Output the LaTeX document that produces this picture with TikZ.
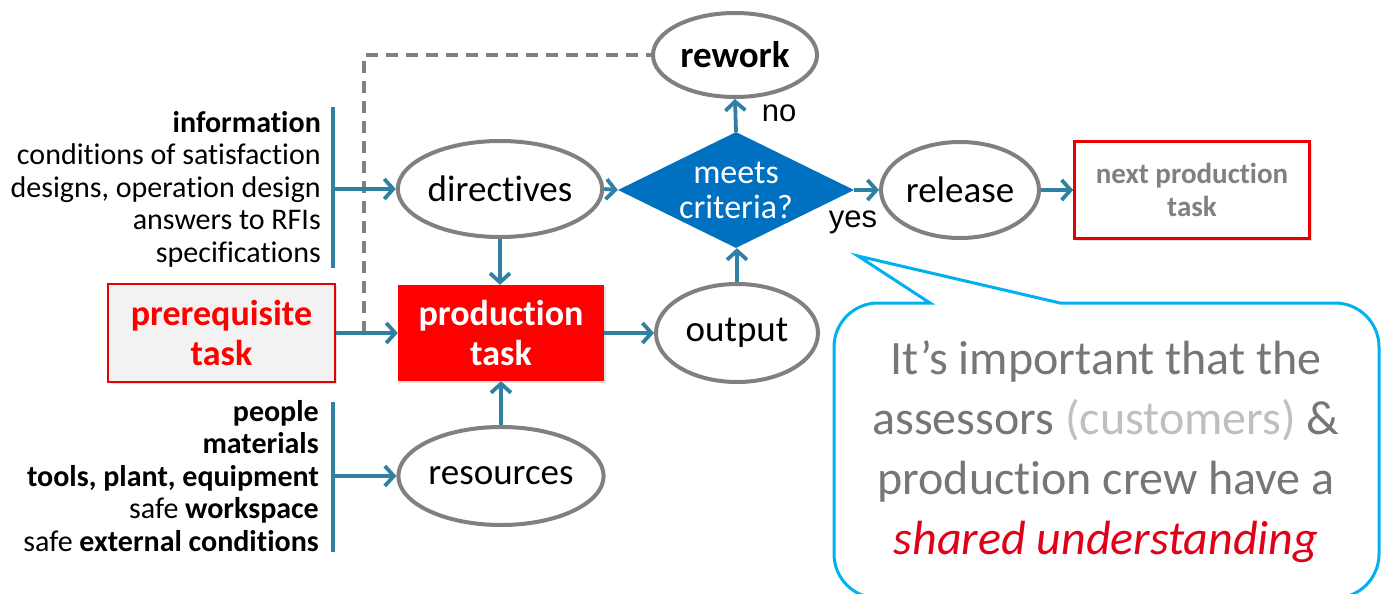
\documentclass[tikz,border=0pt]{standalone}
\usepackage{fontspec}
\setmainfont{Carlito}[Ligatures=NoCommon]
\newfontfamily\arialf{Liberation Sans}
\usetikzlibrary{arrows.meta,shapes.geometric,shadows}
\definecolor{arrblue}{RGB}{47,128,163}
\definecolor{ellgray}{RGB}{128,128,128}
\definecolor{dmblue}{RGB}{0,112,192}
\definecolor{taskred}{RGB}{255,0,0}
\definecolor{boxred}{RGB}{230,0,0}
\definecolor{prefill}{RGB}{242,242,242}
\definecolor{nextgray}{RGB}{128,128,128}
\definecolor{cyanc}{RGB}{0,176,240}
\definecolor{txtgray}{RGB}{118,118,118}
\definecolor{ltgray}{RGB}{191,191,191}
\definecolor{shred}{RGB}{224,0,24}
\definecolor{dashgray}{RGB}{128,128,128}
\tikzset{
  ell/.style={ellipse, draw=ellgray, line width=4pt, fill=white, inner sep=0pt,
    font=\fontsize{37}{40}\selectfont},
  flow/.style={draw=arrblue, line width=3.8pt, -{Straight Barb[length=9pt,width=20pt]}},
  brack/.style={draw=arrblue, line width=3.8pt},
  dashline/.style={draw=dashgray, line width=3.2pt, dash pattern=on 12pt off 8pt},
  listtxt/.style={align=right, anchor=east, inner sep=0pt, font=\fontsize{30}{32.5}\selectfont},
  lbl/.style={inner sep=0pt, font=\arialf\fontsize{31}{34}\selectfont},
  shd/.style={drop shadow={opacity=0.25, shadow xshift=2pt, shadow yshift=-2pt}}
}
\begin{document}
\begin{tikzpicture}[x=1pt,y=-1pt]
\useasboundingbox (0,0) rectangle (1381,594);

% nodes
\node[ell, font=\bfseries\fontsize{37}{40}\selectfont, minimum width=164, minimum height=84] (rework) at (735,55) {rework};
\node[ell, minimum width=162, minimum height=96] (directives) at (500,189) {directives};
\node[diamond, aspect=2, fill=dmblue, minimum width=236, minimum height=116, inner sep=0pt,
  text=white, align=center, font=\fontsize{34}{35}\selectfont] (crit) at (736,190) {meets\\criteria?};
\node[ell, minimum width=158, minimum height=96] (release) at (960,190) {release};
\node[draw=boxred, line width=2.6pt, fill=white, minimum width=235, minimum height=97, inner sep=0pt,
  text=nextgray, align=center, font=\bfseries\fontsize{29}{33}\selectfont, shd] (next) at (1192,190) {next production\\task};
\node[fill=taskred, minimum width=206, minimum height=96, inner sep=0pt, text=white, align=center,
  font=\bfseries\fontsize{36}{40}\selectfont, shd] (prod) at (501,333) {production\\task};
\node[draw=boxred, line width=2.6pt, fill=prefill, minimum width=227, minimum height=98, inner sep=0pt,
  text=taskred, align=center, font=\bfseries\fontsize{36}{40}\selectfont, shd] (prereq) at (221.5,333) {prerequisite\\task};
\node[ell, minimum width=162, minimum height=98] (output) at (737,333) {output};
\node[ell, minimum width=162, minimum height=98] (resources) at (501,476) {resources};

% labels
\node[lbl] (no) at (779,113) {no};
\node[lbl] (yes) at (853,222) {yes};

% lists
\node[listtxt] (info) at (321,189) {\textbf{information}\\conditions of satisfaction\\designs, operation design\\answers to RFIs\\specifications};
\node[listtxt] (res) at (319,476) {\textbf{people}\\\textbf{materials}\\\textbf{tools, plant, equipment}\\safe \textbf{workspace}\\safe \textbf{external conditions}};

% brackets
\coordinate (infoT) at (333,107);
\coordinate (infoB) at (333,268);
\coordinate (resT) at (333,402);
\coordinate (resB) at (333,552);
\draw[brack] (infoT) -- (infoB);
\draw[brack] (resT) -- (resB);

% dashed feedback
\coordinate (dashB) at (364,333);
\draw[dashline] (dashB) |- (rework.west);

% connectors
\draw[flow] (infoT |- directives.west) -- (directives.west);
\draw[flow] (resT |- resources.west) -- (resources.west);
\draw[flow] (directives.east) -- (crit.west);
\draw[flow] (crit.north) -- (rework.south);
\draw[flow] (crit.east) -- (release.west);
\draw[flow] (release.east) -- (next.west);
\draw[flow] (directives.south) -- (directives.south |- prod.north);
\draw[flow] (prereq.east) -- (prod.west);
\draw[flow] (prod.east) -- (output.west);
\draw[flow] (output.north) -- (output.north |- crit.south);
\draw[flow] (resources.north) -- (resources.north |- prod.south);

% callout
\draw[draw=cyanc, line width=3pt, fill=white]
  (930,303) -- (858,256) -- (1060,303)
  [rounded corners=44pt] -- (1379,303) -- (1379,598) -- (834,598) -- (834,303) [sharp corners] -- cycle;
\node[align=center, text=txtgray, inner sep=0pt, font=\fontsize{48}{60}\selectfont] (msg) at (1106,452)
  {It’s important that the\\assessors {\color{ltgray}(customers)} \&\\production crew have a\\{\color{shred}\itshape shared understanding}};
\end{tikzpicture}
\end{document}
